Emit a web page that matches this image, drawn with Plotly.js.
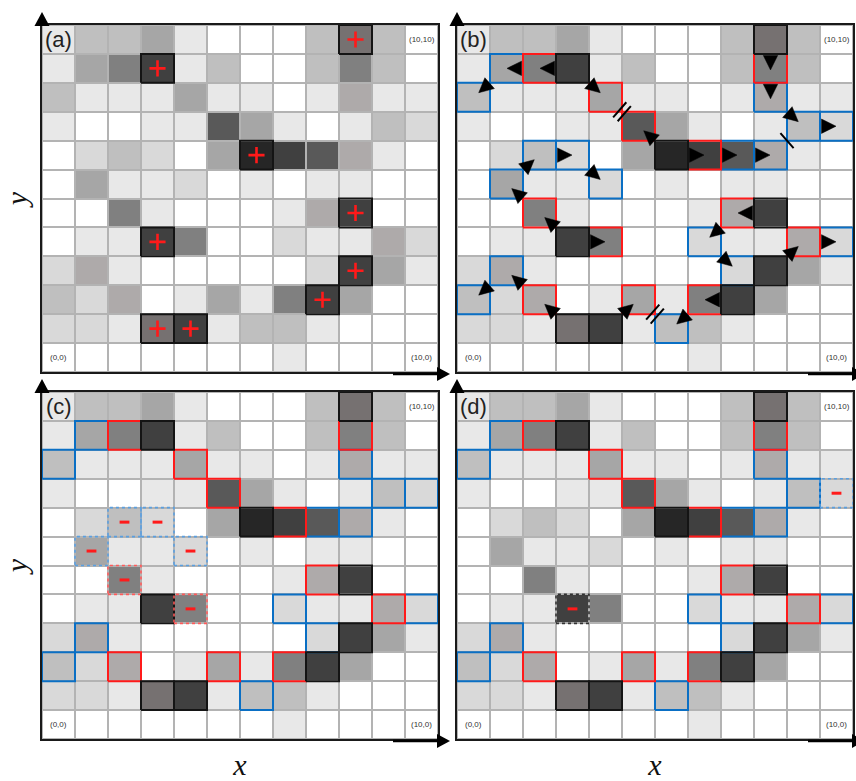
<!DOCTYPE html>
<html><head><meta charset="utf-8">
<script src="https://cdn.plot.ly/plotly-3.0.1.min.js"></script>
<style>html,body{margin:0;padding:0;background:#fff}#chart{width:856px;height:781px}</style>
</head><body><div id="chart"></div>
<script>
// ---------- DATA ----------
// gray intensity palette (index = level)
const grayPalette = ['#ffffff','#e8e8e8','#d9d9d9','#bfbfbf','#a6a6a6','#aeaaaa','#808080','#767171','#595959','#404040','#262626'];
// grid levels, rows listed from the top (y=11) down to y=0
const gridRowsTopDown = [
  [1,3,3,4,1,0,0,0,3,7,3,0],
  [1,4,6,9,1,3,0,0,3,6,3,0],
  [3,1,1,1,4,1,1,0,1,5,1,1],
  [1,0,0,1,1,8,4,1,0,1,3,2],
  [0,2,3,2,0,4,10,9,8,5,1,0],
  [0,4,1,1,2,0,1,0,1,1,0,0],
  [0,0,6,1,0,0,0,1,5,9,0,0],
  [0,1,1,9,6,0,0,2,1,1,5,2],
  [2,5,1,0,0,0,0,0,2,9,4,1],
  [3,2,5,0,1,4,1,6,9,4,0,0],
  [2,2,1,7,9,1,3,3,1,0,0,0],
  [0,0,0,0,0,0,0,1,0,0,0,0]
];
const colIndex = [0,1,2,3,4,5,6,7,8,9,10,11];
const rowIndex = [0,1,2,3,4,5,6,7,8,9,10,11];

// local maxima (black outline, "+")
const maxX = [9,3,6,9,3,9,8,3,4];
const maxY = [11,10,7,5,4,3,2,1,1];
// traced ridge cells
const blueX = [1,0,9,10,11,2,3,8,9,1,4,7,11,1,8,0,6];
const blueY = [10,9,9,8,8,7,7,7,7,6,6,4,4,3,3,2,1];
const redX  = [2,9,4,5,7,2,8,4,10,2,5,7];
const redY  = [10,10,9,8,7,5,5,4,4,2,2,2];
// (c) removed cells
const cDropBlueX = [2,3,1,4], cDropBlueY = [7,7,6,6];
const cDropRedX  = [2,4],     cDropRedY  = [5,4];
// (d) removed cells
const dDropBlackX = [3], dDropBlackY = [4];
const dDropBlueX  = [11], dDropBlueY = [8];
// tracing steps in (b)
const arrowFromX = [3,2,1,3,6,6,7,8,9,9,9,10,3,2,1,2,3,3,9,8,7,9,10,3,2,1,4,8,7];
const arrowFromY = [10,10,10,10,7,7,7,7,11,10,9,8,4,5,6,7,7,4,5,5,4,3,4,1,2,3,1,2,2];
const arrowToX   = [2,1,0,4,5,7,8,9,9,9,10,11,2,1,2,3,4,4,8,7,8,10,11,2,1,0,5,7,6];
const arrowToY   = [10,10,9,9,8,7,7,7,10,9,8,8,5,6,7,7,6,4,5,4,3,4,4,2,3,2,2,2,1];
// break marks between two cells in (b)
const breakAX = [4,9,5], breakAY = [9,7,2];
const breakBX = [5,10,6], breakBY = [8,8,1];
const breakCount = [2,1,2];
const panelLabels = ['(a)','(b)','(c)','(d)'];
const cornerText = ['(0,0)','(10,0)','(10,10)'];
const cornerX = [0,11,11], cornerY = [0,0,11];

// ---------- LAYOUT GEOMETRY ----------
const W = 856, H = 781;
const colsPx = [[42,438],[457,853],[42,438],[457,853]];
const rowsPx = [[25,372],[25,372],[392,739],[392,739]];
const pxX = 396/12, pxY = 347/12;

const BLUE = '#0a6fc4', RED = '#ff1a1a', BLACK = '#141414';

const nLev = grayPalette.length;
const colorscale = [];
grayPalette.forEach((c,i)=>{colorscale.push([i/nLev,c]);colorscale.push([(i+1)/nLev,c]);});
const zBottomUp = gridRowsTopDown.slice().reverse();

function ax(i){return i===0?'':String(i+1);}
function rectPath(xs, ys){
  const px=[],py=[];
  xs.forEach((x,i)=>{const y=ys[i];
    px.push(x-.5,x+.5,x+.5,x-.5,x-.5,null);
    py.push(y-.5,y-.5,y+.5,y+.5,y-.5,null);});
  return {x:px,y:py};
}
function minus(xs, ys, dx, dy){
  const ox=[],oy=[];
  xs.forEach((x,i)=>{let drop=false;dx.forEach((q,j)=>{if(q===x&&dy[j]===ys[i])drop=true;});
    if(!drop){ox.push(x);oy.push(ys[i]);}});
  return [ox,oy];
}
const traces = [];
function outline(i, xs, ys, color, dash, width){
  const p = rectPath(xs, ys);
  traces.push({type:'scatter',mode:'lines',x:p.x,y:p.y,xaxis:'x'+ax(i),yaxis:'y'+ax(i),
    line:{color:color,width:width||2,dash:dash||'solid'},hoverinfo:'skip',showlegend:false,connectgaps:false});
}
function marks(i, xs, ys, symbol, size, color, lw){
  traces.push({type:'scatter',mode:'markers',x:xs,y:ys,xaxis:'x'+ax(i),yaxis:'y'+ax(i),
    marker:{symbol:symbol,size:size,color:color,line:{color:color,width:lw}},hoverinfo:'skip',showlegend:false});
}

// heatmaps
for(let i=0;i<4;i++){
  traces.push({type:'heatmap',x:colIndex,y:rowIndex,z:zBottomUp,zmin:-0.5,zmax:nLev-0.5,
    colorscale:colorscale,showscale:false,xgap:2,ygap:2,hoverinfo:'skip',xaxis:'x'+ax(i),yaxis:'y'+ax(i)});
}
// (a)
outline(0, maxX, maxY, BLACK);
marks(0, maxX, maxY, 'cross-thin', 11.5, RED, 2.6);
// (b)
outline(1, blueX, blueY, BLUE);
outline(1, redX, redY, RED);
outline(1, maxX, maxY, BLACK);
(function(){
  // filled arrowheads, one per tracing step, placed at the boundary between the two cells
  const tx=[],ty=[];
  const LEN=14.5, HALF=7.2;
  arrowFromX.forEach((fx,k)=>{
    const fy=arrowFromY[k], sx=arrowToX[k], sy=arrowToY[k];
    let ux=(sx-fx)*pxX, uy=(sy-fy)*pxY;
    const diag=(sx!==fx&&sy!==fy);
    const L=Math.hypot(ux,uy); ux/=L; uy/=L;
    const inset = diag?0.5:1.5;
    const bxp=((fx+sx)/2), byp=((fy+sy)/2);
    const bcx=bxp+ux*inset/pxX, bcy=byp+uy*inset/pxY;
    const px_=-uy, py_=ux;
    tx.push(bcx+ux*LEN/pxX, bcx+px_*HALF/pxX, bcx-px_*HALF/pxX, bcx+ux*LEN/pxX, null);
    ty.push(bcy+uy*LEN/pxY, bcy+py_*HALF/pxY, bcy-py_*HALF/pxY, bcy+uy*LEN/pxY, null);
  });
  traces.push({type:'scatter',mode:'lines',x:tx,y:ty,xaxis:'x2',yaxis:'y2',fill:'toself',fillcolor:'#000',
    line:{color:'#000',width:0.5},hoverinfo:'skip',showlegend:false,connectgaps:false});
  const bx=[],by=[];
  breakAX.forEach((a,k)=>{
    const cx=(a+breakBX[k])/2, cy=(breakAY[k]+breakBY[k])/2;
    let dxp=(breakBX[k]-a)*pxX, dyp=(breakBY[k]-breakAY[k])*pxY;
    const L=Math.hypot(dxp,dyp); dxp/=L; dyp/=L;
    const ppx=-dyp, ppy=dxp, h=10;
    const offs = breakCount[k]===2?[-3,3]:[0];
    offs.forEach(o=>{
      const ox=cx+dxp*o/pxX, oy=cy+dyp*o/pxY;
      bx.push(ox-ppx*h/pxX, ox+ppx*h/pxX, null);
      by.push(oy-ppy*h/pxY, oy+ppy*h/pxY, null);
    });
  });
  traces.push({type:'scatter',mode:'lines',x:bx,y:by,xaxis:'x2',yaxis:'y2',cliponaxis:false,
    line:{color:'#000',width:2},hoverinfo:'skip',showlegend:false});
})();
// (c)
(function(){
  const b=minus(blueX,blueY,cDropBlueX,cDropBlueY), r=minus(redX,redY,cDropRedX,cDropRedY);
  outline(2,b[0],b[1],BLUE); outline(2,r[0],r[1],RED); outline(2,maxX,maxY,BLACK);
  outline(2,cDropBlueX,cDropBlueY,'#5a9fe0','dot',1.6);
  outline(2,cDropRedX,cDropRedY,'#ff5a5a','dot',1.6);
  marks(2,cDropBlueX.concat(cDropRedX),cDropBlueY.concat(cDropRedY),'line-ew',7,RED,3);
})();
// (d)
(function(){
  let b=minus(blueX,blueY,cDropBlueX,cDropBlueY); b=minus(b[0],b[1],dDropBlueX,dDropBlueY);
  const r=minus(redX,redY,cDropRedX,cDropRedY);
  const k=minus(maxX,maxY,dDropBlackX,dDropBlackY);
  outline(3,b[0],b[1],BLUE); outline(3,r[0],r[1],RED); outline(3,k[0],k[1],BLACK);
  outline(3,dDropBlackX,dDropBlackY,'#333','dot',1.6);
  outline(3,dDropBlueX,dDropBlueY,'#5a9fe0','dot',1.6);
  marks(3,dDropBlackX.concat(dDropBlueX),dDropBlackY.concat(dDropBlueY),'line-ew',7,RED,3);
})();

const layout = {width:W,height:H,margin:{l:0,r:0,t:0,b:0},paper_bgcolor:'#fff',plot_bgcolor:'#b3b3b3',
  showlegend:false,annotations:[],shapes:[]};
function P(px,py){return (px/W).toFixed(5)+','+(1-py/H).toFixed(5);}
for(let i=0;i<4;i++){
  const base={range:[-0.5,11.5],showline:true,mirror:true,linecolor:'#1a1a1a',linewidth:2,ticks:'',
    showticklabels:false,showgrid:false,zeroline:false,fixedrange:true};
  layout['xaxis'+ax(i)] = Object.assign({},base,{domain:[colsPx[i][0]/W,colsPx[i][1]/W],anchor:'y'+ax(i)});
  layout['yaxis'+ax(i)] = Object.assign({},base,{domain:[1-rowsPx[i][1]/H,1-rowsPx[i][0]/H],anchor:'x'+ax(i)});
  layout.annotations.push({text:panelLabels[i],x:0,y:11,xref:'x'+ax(i),yref:'y'+ax(i),showarrow:false,
    font:{family:'Liberation Sans',size:22,color:'#222'}});
  cornerText.forEach((t,j)=>layout.annotations.push({text:t,x:cornerX[j],y:cornerY[j],xref:'x'+ax(i),yref:'y'+ax(i),
    showarrow:false,font:{family:'Liberation Sans',size:8,color:'#333'}}));
  // axis arrowheads (decoration, placed at the frame corners)
  const x0=colsPx[i][0], x1=colsPx[i][1], t=rowsPx[i][0], bt=rowsPx[i][1];
  layout.shapes.push({type:'path',xref:'paper',yref:'paper',layer:'above',fillcolor:'#000',line:{width:0},
    path:'M'+P(x0-7.5,t+1)+'L'+P(x0+7.5,t+1)+'L'+P(x0,t-13)+'Z'});
  layout.shapes.push({type:'path',xref:'paper',yref:'paper',layer:'above',fillcolor:'#000',line:{width:0},
    path:'M'+P(x1-1,bt-5)+'L'+P(x1-1,bt+9)+'L'+P(x1+12,bt+2)+'Z'});
  layout.shapes.push({type:'line',xref:'paper',yref:'paper',layer:'above',line:{color:'#000',width:2.5},
    x0:(x1-45)/W,x1:(x1)/W,y0:1-(bt+2)/H,y1:1-(bt+2)/H});
}
const tfont={family:'Liberation Serif',size:30,color:'#111'};
layout.yaxis.title={text:'<i>y</i>',font:tfont,standoff:4};
layout.yaxis3.title={text:'<i>y</i>',font:tfont,standoff:4};
layout.xaxis3.title={text:'<i>x</i>',font:tfont,standoff:21};
layout.xaxis4.title={text:'<i>x</i>',font:tfont,standoff:21};

Plotly.newPlot('chart',traces,layout,{staticPlot:true,displayModeBar:false});
</script></body></html>
